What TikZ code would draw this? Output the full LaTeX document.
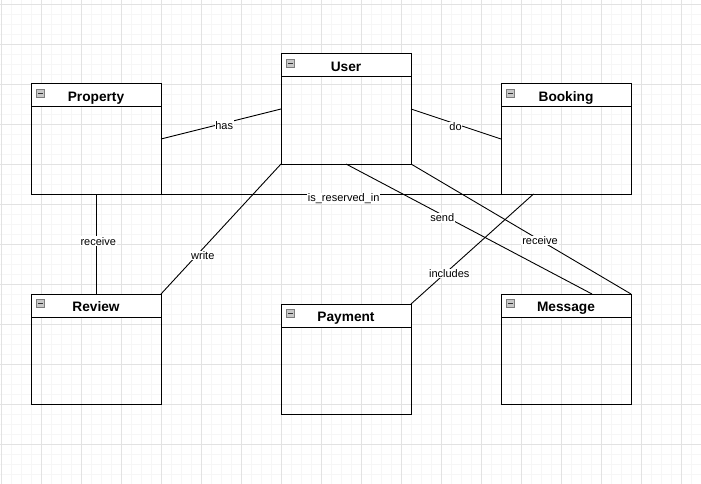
\documentclass[tikz,border=0pt]{standalone}
\usepackage{fontspec}
\setmainfont{Liberation Sans}
\usetikzlibrary{calc}
\definecolor{gridminor}{RGB}{246,246,246}
\definecolor{gridmajor}{RGB}{226,226,226}
\definecolor{iconfill}{RGB}{200,200,200}
\definecolor{iconedge}{RGB}{125,125,125}
\newcommand\umlclass[4]{%
  \fill[white] (#2,#3) rectangle ++(130,23);
  \node[umlbox] (#1) at (#2,#3) {};
  \draw[line width=1pt] (#2,#3+23) -- ++(130,0);
  \draw[iconedge, fill=iconfill, line width=0.8pt] (#2+5.5,#3+5.5) rectangle ++(8,8);
  \draw[line width=1.4pt, black!80] (#2+7.3,#3+9.5) -- ++(4.4,0);
  \node[ttl] (#1-title) at (#2+65,#3+17.5) {#4};
}
\begin{document}
\begin{tikzpicture}[x=1pt,y=-1pt,
  umlbox/.style={draw=black, line width=1pt, minimum width=130pt, minimum height=110pt, anchor=north west, inner sep=0pt, outer sep=0pt},
  conn/.style={draw=black, line width=0.9pt},
  lbl/.style={fill=white, inner sep=0.8pt, font=\fontsize{11}{13}\selectfont, anchor=base},
  ttl/.style={font=\fontsize{13.7}{16}\selectfont\bfseries, anchor=base, inner sep=0pt},
]
\useasboundingbox (0,0) rectangle (701,484);
\fill[white] (0,0) rectangle (701,484);
\foreach \x in {1,11,...,691} \draw[gridminor, line width=0.9pt] (\x,0) -- (\x,484);
\foreach \y in {4,14,...,474} \draw[gridminor, line width=0.9pt] (0,\y) -- (701,\y);
\foreach \x in {1,41,...,681} \draw[gridmajor, line width=0.9pt] (\x,0) -- (\x,484);
\foreach \y in {4,44,...,444} \draw[gridmajor, line width=0.9pt] (0,\y) -- (701,\y);

\umlclass{prop}{31}{84}{Property}
\umlclass{user}{281}{54}{User}
\umlclass{book}{501}{84}{Booking}
\umlclass{rev}{31}{294}{Review}
\umlclass{pay}{281}{304}{Payment}
\umlclass{msg}{501}{294}{Message}

\draw[conn] (prop.east) -- (user.west);
\draw[conn] (user.east) -- (book.west);
\draw[conn] (prop.south west) -- (book.south east);
\draw[conn] (prop.south) -- (rev.north);
\draw[conn] (rev.north east) -- (user.south west);
\draw[conn] (user.south) -- ($(msg.north west)!0.7!(msg.north east)$);
\draw[conn] (user.south east) -- (msg.north east);
\draw[conn] ($(book.south west)!0.25!(book.south east)$) -- (pay.north east);

\node[lbl] (lhas) at (224.2,129) {has};
\node[lbl] (ldo) at (455.5,130.7) {do};
\node[lbl] (lres) at (343.7,201.5) {is\_reserved\_in};
\node[lbl] (lrec1) at (98.3,245) {receive};
\node[lbl] (lwrite) at (202.8,259.3) {write};
\node[lbl] (lsend) at (442.3,221.7) {send};
\node[lbl] (lrec2) at (540,244.5) {receive};
\node[lbl] (linc) at (449.3,277.3) {includes};
\end{tikzpicture}
\end{document}
